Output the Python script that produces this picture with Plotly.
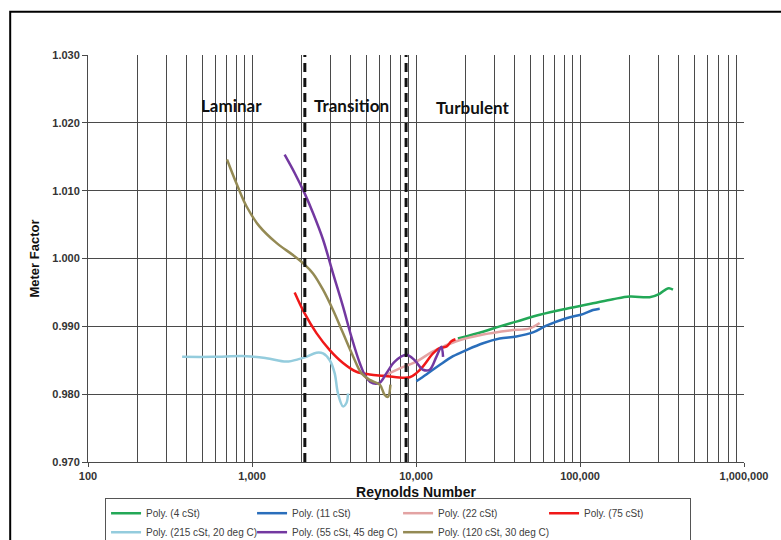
import math
import plotly.graph_objects as go

# Meter factor polynomial fits versus Reynolds number, one array pair per fluid
re_4cst = [18000, 25600, 32400, 40900, 56800, 82600, 120000, 158800, 200900, 265700, 305600, 336200, 349000, 369000]
mf_4cst = [0.9882, 0.9892, 0.9900, 0.9907, 0.9917, 0.9926, 0.9934, 0.9940, 0.9944, 0.9943, 0.9948, 0.9955, 0.9956, 0.9954]

re_11cst = [10050, 11560, 13930, 16830, 20290, 25630, 32350, 40920, 51650, 62340, 82570, 104200, 120000, 131900]
mf_11cst = [0.9819, 0.9829, 0.9843, 0.9856, 0.9865, 0.9875, 0.9882, 0.9885, 0.9891, 0.9901, 0.9912, 0.9918, 0.9924, 0.9926]

re_22cst = [6300, 7960, 10050, 12700, 17630, 25630, 37240, 49320, 56760]
mf_22cst = [0.9826, 0.9838, 0.9848, 0.9863, 0.9878, 0.9888, 0.9894, 0.9897, 0.9905]

re_75cst = [1820, 2094, 2472, 2979, 3589, 4336, 5224, 6295, 7590, 9155, 10050, 11040, 12700, 13930, 15300, 16430, 17400]
mf_75cst = [0.9950, 0.9919, 0.9890, 0.9865, 0.9846, 0.9833, 0.9829, 0.9827, 0.9825, 0.9825, 0.9831, 0.9841, 0.9860, 0.9868, 0.9870, 0.9878, 0.9881]

re_215cst = [375, 578, 925, 1224, 1622, 1954, 2147, 2472, 2710, 2979, 3191, 3345, 3589, 3764, 3849]
mf_215cst = [0.9855, 0.9855, 0.9856, 0.9853, 0.9848, 0.9852, 0.9855, 0.9861, 0.9860, 0.9850, 0.9831, 0.9801, 0.9782, 0.9787, 0.9801]

re_55cst = [1581, 1820, 2094, 2355, 2710, 3119, 3589, 4034, 4539, 4987, 5470, 6012, 6607, 7420, 8738, 9817, 11040, 12115, 13310, 14280, 14620]
mf_55cst = [1.0153, 1.0126, 1.0096, 1.0067, 1.0028, 0.9978, 0.9929, 0.9885, 0.9846, 0.9824, 0.9816, 0.9817, 0.9831, 0.9848, 0.9858, 0.9850, 0.9836, 0.9836, 0.9855, 0.9870, 0.9855]

re_120cst = [704, 803, 925, 1114, 1409, 1778, 2094, 2355, 2710, 3119, 3589, 4130, 4645, 5224, 6012, 6442, 6745, 6983]
mf_120cst = [1.0146, 1.0111, 1.0077, 1.0047, 1.0023, 1.0005, 0.9991, 0.9978, 0.9954, 0.9924, 0.9890, 0.9856, 0.9831, 0.9821, 0.9814, 0.9799, 0.9796, 0.9814]

series_names = ["Poly. (4 cSt)", "Poly. (11 cSt)", "Poly. (22 cSt)", "Poly. (75 cSt)",
                "Poly. (215 cSt, 20 deg C)", "Poly. (55 cSt, 45 deg C)", "Poly. (120 cSt, 30 deg C)"]
series_colors = ["#23A857", "#2A6EBB", "#E3A3A3", "#F01818", "#94CCDD", "#7338A0", "#948A54"]
series_x = [re_4cst, re_11cst, re_22cst, re_75cst, re_215cst, re_55cst, re_120cst]
series_y = [mf_4cst, mf_11cst, mf_22cst, mf_75cst, mf_215cst, mf_55cst, mf_120cst]

# Flow regime boundaries and labels
regime_bounds = [2100, 8700]
regime_labels = ["Laminar", "Transition", "Turbulent"]
regime_label_re = [748, 4055, 22400]
regime_label_mf = [1.0225, 1.0225, 1.0222]

x_tickvals = [100, 1000, 10000, 100000, 1000000]
x_ticktext = ["100", "1,000", "10,000", "100,000", "1,000,000"]
x_minor = [m * 10 ** d for d in range(2, 6) for m in range(2, 10)]
y_tickvals = [0.970, 0.980, 0.990, 1.000, 1.010, 1.020, 1.030]

GRID = "#4a4a4a"
FONT = "Liberation Sans"

fig = go.Figure()

for name, color, xs, ys in zip(series_names, series_colors, series_x, series_y):
    fig.add_trace(go.Scatter(
        x=xs, y=ys, mode="lines", name=name,
        line=dict(color=color, width=2.5, shape="spline", smoothing=1.0),
    ))

for b in regime_bounds:
    fig.add_trace(go.Scatter(
        x=[b, b], y=[0.970, 1.030], mode="lines", showlegend=False, hoverinfo="skip",
        line=dict(color="#111111", width=3, dash="9px,6px"),
    ))

for txt, rx, ry in zip(regime_labels, regime_label_re, regime_label_mf):
    fig.add_annotation(
        x=math.log10(rx), y=ry, xref="x", yref="y", text=txt, showarrow=False,
        font=dict(family="Lato", size=17, color="#111111", weight="bold"),
        xanchor="center", yanchor="middle",
    )

# Outer chart frame
fig.add_shape(type="rect", xref="paper", yref="paper",
              x0=-0.1186, y0=-0.4, x1=1.2, y1=1.1064,
              line=dict(color="#000000", width=2), fillcolor="rgba(0,0,0,0)", layer="below")

fig.update_layout(
    width=781, height=540,
    margin=dict(l=88, r=37, t=55, b=78, autoexpand=False),
    paper_bgcolor="white", plot_bgcolor="white",
    font=dict(family=FONT, color="#333333"),
    showlegend=True,
    legend=dict(
        orientation="h", x=0.026, y=-0.0877, xanchor="left", yanchor="top",
        bordercolor="#555555", borderwidth=1, bgcolor="rgba(255,255,255,0)",
        font=dict(family=FONT, size=10, color="#404040"),
        entrywidth=101, entrywidthmode="pixels",
        tracegroupgap=0, itemwidth=30,
    ),
)

fig.update_xaxes(
    type="log", range=[2, 6],
    tickvals=x_tickvals, ticktext=x_ticktext,
    tickfont=dict(family=FONT, size=11, color="#333333", weight="bold"),
    ticks="outside", ticklen=4, tickcolor=GRID,
    showgrid=True, gridcolor=GRID, gridwidth=1,
    minor=dict(tickvals=x_minor, showgrid=True, gridcolor=GRID, gridwidth=1, ticks=""),
    showline=True, linecolor=GRID, linewidth=1,
    zeroline=False,
    title=dict(text="Reynolds Number", standoff=5,
               font=dict(family=FONT, size=14, color="#111111", weight="bold")),
)

fig.update_yaxes(
    range=[0.970, 1.030], tickvals=y_tickvals, tickformat=".3f",
    tickfont=dict(family=FONT, size=11, color="#333333", weight="bold"),
    ticks="outside", ticklen=5, tickcolor=GRID,
    showgrid=True, gridcolor=GRID, gridwidth=1,
    showline=True, linecolor=GRID, linewidth=1,
    zeroline=False,
    title=dict(text="Meter Factor", standoff=9,
               font=dict(family=FONT, size=13, color="#111111", weight="bold")),
)

fig.write_html("out.html")
